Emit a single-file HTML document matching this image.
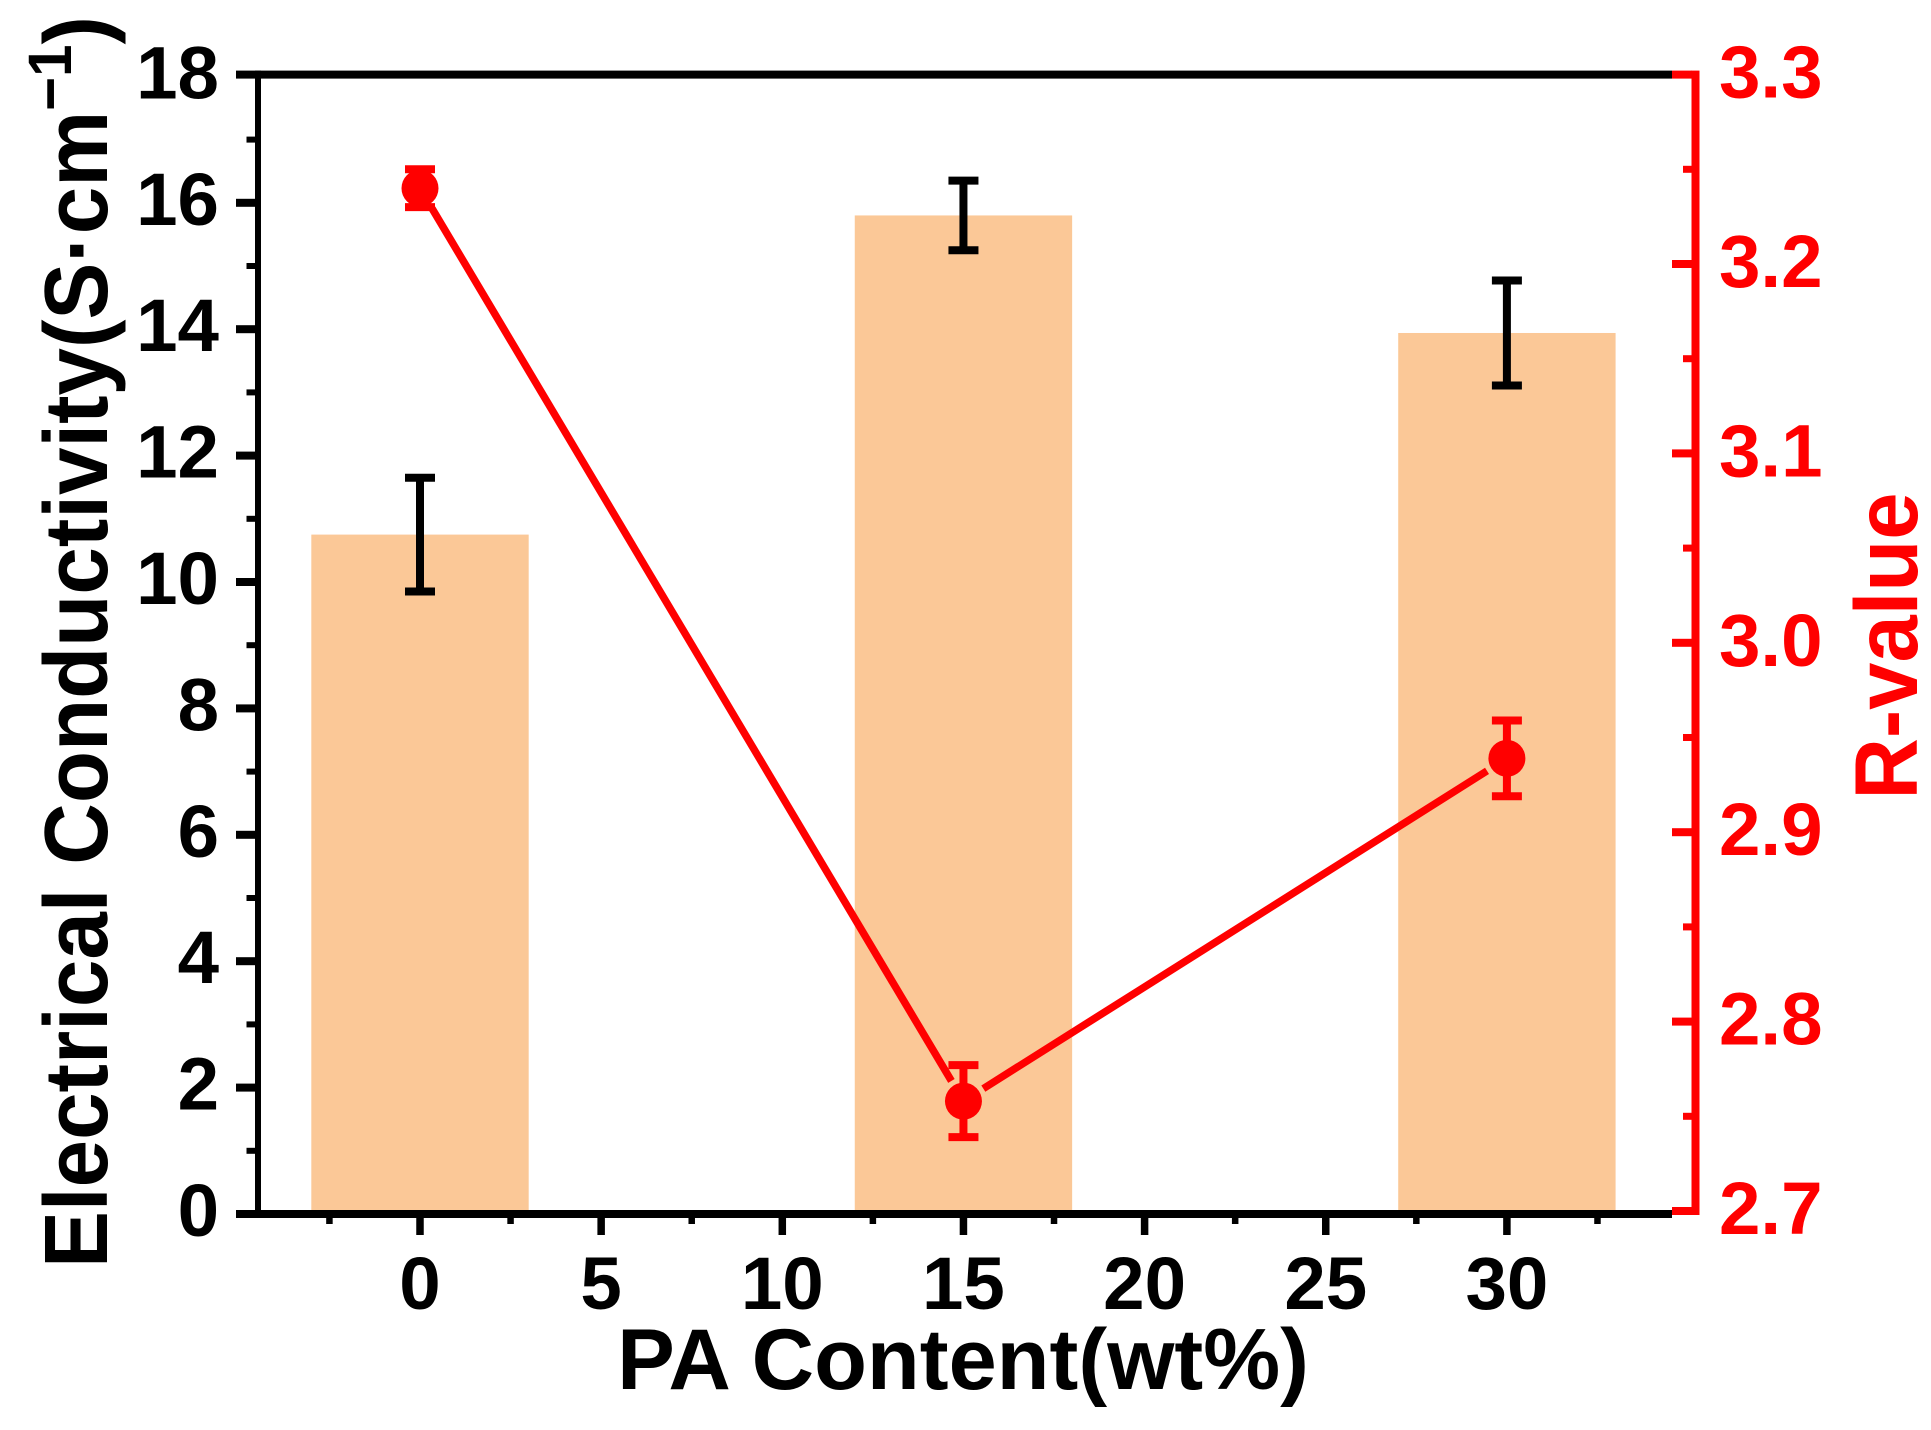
<!DOCTYPE html>
<html lang="en">
<head>
<meta charset="utf-8">
<title>Electrical Conductivity and R-value vs PA Content</title>
<style>
  html, body { margin: 0; padding: 0; background: #fff; }
  body { width: 1931px; height: 1430px; overflow: hidden; }
  svg { display: block; }
  text { font-family: "Liberation Sans", Arial, sans-serif; font-weight: bold; }
</style>
</head>
<body>
<svg id="chart" xmlns="http://www.w3.org/2000/svg" width="1931" height="1430" viewBox="0 0 1931 1430">
  <rect x="0" y="0" width="1931" height="1430" fill="#ffffff"/>
  <g id="bars"></g>
  <g id="bar-errors"></g>
  <g id="r-series"></g>
  <g id="axes"></g>
  <text x="963" y="1389" font-size="86.5" text-anchor="middle" fill="#000">PA Content(wt%)</text>
  <text transform="translate(107,1268) rotate(-90) scale(1.004,1.06)" font-size="85" fill="#000">Electrical Conductivity(S·cm<tspan font-size="58" dy="-34">−1</tspan><tspan dy="34">)</tspan></text>
  <text transform="translate(1917,646) rotate(-90) scale(1,1.05)" font-size="85" text-anchor="middle" fill="#ff0000">R-value</text>
</svg>
<script>
// Data
const paContent = [0, 15, 30];
const conductivity = [10.75, 15.8, 13.94];
const conductivityErr = [0.9, 0.55, 0.83];
const rValue = [3.24, 2.758, 2.939];
const rValueErr = [0.01, 0.019, 0.02];
const barWidthUnits = 6;

// Tick values and labels
const xMajorTicks = [0, 5, 10, 15, 20, 25, 30];
const xMinorTicks = [-2.5, 2.5, 7.5, 12.5, 17.5, 22.5, 27.5, 32.5];
const yMajorTicks = [0, 2, 4, 6, 8, 10, 12, 14, 16, 18];
const yMinorTicks = [1, 3, 5, 7, 9, 11, 13, 15, 17];
const rMajorTicks = ["2.7", "2.8", "2.9", "3.0", "3.1", "3.2", "3.3"];
const rMinorTicks = [2.75, 2.85, 2.95, 3.05, 3.15, 3.25];

// Axis functions
function xScale(v) { return 420 + v * 36.23; }
function yScale(v) { return 1214 - v * 63.2; }
function rScale(v) { return 1211 - (v - 2.7) * 1894; }

const SVGNS = 'http://www.w3.org/2000/svg';
const BLACK = '#000000';
const RED = '#ff0000';
const BAR_FILL = '#fbc897';

function make(tag, parent, props) {
  const el = document.createElementNS(SVGNS, tag);
  for (const k in props) el.setAttribute(k, props[k]);
  parent.appendChild(el);
  return el;
}

const barsG = document.getElementById('bars');
const barErrG = document.getElementById('bar-errors');
const rG = document.getElementById('r-series');
const axesG = document.getElementById('axes');

function errorBar(parent, x, yTop, yBottom, color, namePrefix) {
  const stem = make('line', parent, { x1: x, x2: x, y1: yTop, y2: yBottom, stroke: color, 'stroke-width': 8 });
  
  
  const capTop = make('line', parent, { x1: x - 15, x2: x + 15, y1: yTop, y2: yTop, stroke: color, 'stroke-width': 8 });
  
  
  const capBottom = make('line', parent, { x1: x - 15, x2: x + 15, y1: yBottom, y2: yBottom, stroke: color, 'stroke-width': 8 });
  
  
}

// Bars and their error bars
paContent.forEach(function (p, i) {
  const left = xScale(p - barWidthUnits / 2);
  const right = xScale(p + barWidthUnits / 2);
  const top = yScale(conductivity[i]);
  const bar = make('rect', barsG, { x: left, y: top, width: right - left, height: yScale(0) - top, fill: BAR_FILL });
  
  
  errorBar(barErrG, xScale(p), yScale(conductivity[i] + conductivityErr[i]), yScale(conductivity[i] - conductivityErr[i]), BLACK, 'bar-error-pa-' + p);
});

// R-value line with gaps around the markers
const MARKER_GAP = 23.5;
for (let i = 0; i < paContent.length - 1; i++) {
  const x1 = xScale(paContent[i]), y1 = rScale(rValue[i]);
  const x2 = xScale(paContent[i + 1]), y2 = rScale(rValue[i + 1]);
  const len = Math.hypot(x2 - x1, y2 - y1);
  const ux = (x2 - x1) / len, uy = (y2 - y1) / len;
  const seg = make('line', rG, {
    x1: x1 + ux * MARKER_GAP, y1: y1 + uy * MARKER_GAP,
    x2: x2 - ux * MARKER_GAP, y2: y2 - uy * MARKER_GAP,
    stroke: RED, 'stroke-width': 7.5
  });
  
  
}
paContent.forEach(function (p, i) {
  errorBar(rG, xScale(p), rScale(rValue[i] + rValueErr[i]), rScale(rValue[i] - rValueErr[i]), RED, 'r-error-pa-' + p);
  const pt = make('circle', rG, { cx: xScale(p), cy: rScale(rValue[i]), r: 18.5, fill: RED });
  
  
});

// Frame reference: the top edge lines up with the top of the right axis
const frameTop = rScale(3.3);

// Left axis
const leftSpine = make('rect', axesG, { x: 255, y: frameTop - 4, width: 6, height: yScale(0) - frameTop + 8, fill: BLACK });


yMinorTicks.forEach(function (v) {
  const t = make('rect', axesG, { x: 246.5, y: yScale(v) - 3, width: 9, height: 6, fill: BLACK });
  
  
});
yMajorTicks.forEach(function (v) {
  if (v < 18) {
    const t = make('rect', axesG, { x: 236, y: yScale(v) - 4, width: 20, height: 8, fill: BLACK });
    
    
  }
  const label = make('text', axesG, { x: 219, y: yScale(v) + 22, 'font-size': 74.5, 'text-anchor': 'end', fill: BLACK });
  label.textContent = String(v);
  
  
});

// Top and bottom frame lines
const topLine = make('rect', axesG, { x: 236, y: frameTop - 4, width: 1436, height: 8, fill: BLACK });


const bottomLine = make('rect', axesG, { x: 236, y: yScale(0) - 4, width: 1436, height: 8, fill: BLACK });



// X axis ticks
xMinorTicks.forEach(function (v) {
  const t = make('rect', axesG, { x: xScale(v) - 3.25, y: yScale(0) + 4, width: 6.5, height: 6, fill: BLACK });
  
  
});
xMajorTicks.forEach(function (v) {
  const t = make('rect', axesG, { x: xScale(v) - 3.75, y: yScale(0) + 4, width: 7.5, height: 17, fill: BLACK });
  
  
  const label = make('text', axesG, { x: xScale(v), y: 1309, 'font-size': 74.5, 'text-anchor': 'middle', fill: BLACK });
  label.textContent = String(v);
  
  
});

// Right axis
const rightSpine = make('rect', axesG, { x: 1691.5, y: rScale(3.3) - 4, width: 8, height: rScale(2.7) - rScale(3.3) + 8, fill: RED });


rMinorTicks.forEach(function (v) {
  const t = make('rect', axesG, { x: 1683, y: rScale(v) - 3.5, width: 9, height: 7, fill: RED });
  
  
});
rMajorTicks.forEach(function (v) {
  const t = make('rect', axesG, { x: 1672, y: rScale(Number(v)) - 4, width: 20, height: 8, fill: RED });
  
  
  const label = make('text', axesG, { x: 1719, y: rScale(Number(v)) + 23, 'font-size': 74.5, fill: RED });
  label.textContent = v;
  
  
});
</script>
</body>
</html>
